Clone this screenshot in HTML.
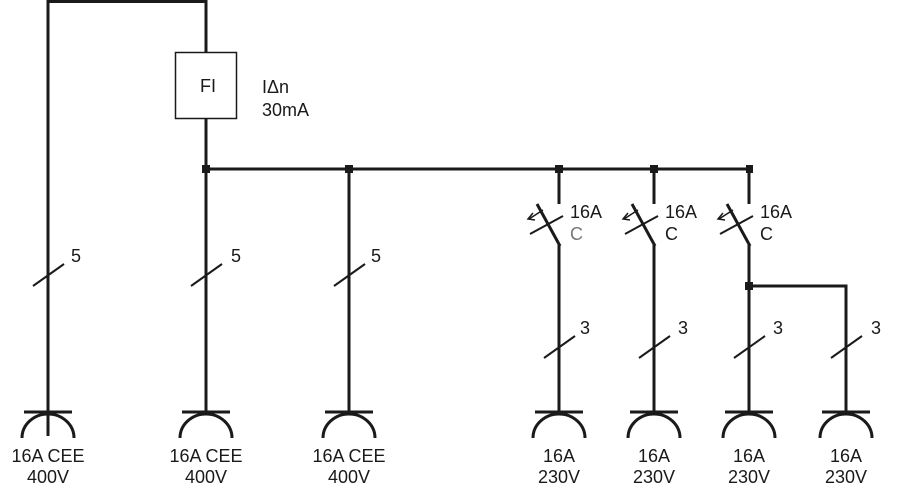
<!DOCTYPE html>
<html><head><style>body{margin:0;background:#fff}svg{display:block}</style></head><body>
<svg width="900" height="493" viewBox="0 0 900 493" xmlns="http://www.w3.org/2000/svg" font-family="Liberation Sans, sans-serif" fill="none" stroke="#1a1a1a">
<g stroke-width="3">
<polyline points="48,412 48,1.5 206,1.5 206,52"/>
<line x1="206" y1="119" x2="206" y2="412"/>
<line x1="206" y1="169" x2="750" y2="169"/>
<line x1="349" y1="169" x2="349" y2="412"/>
<line x1="559" y1="169" x2="559" y2="204"/>
<line x1="654" y1="169" x2="654" y2="204"/>
<line x1="749" y1="169" x2="749" y2="204"/>
<line x1="559" y1="245" x2="559" y2="412"/>
<line x1="654" y1="245" x2="654" y2="412"/>
<polyline points="749,245 749,412"/>
<polyline points="749,286 846,286 846,412"/>
</g>
<rect x="175.5" y="52.5" width="61" height="66" stroke-width="1.5"/>
<g fill="#1a1a1a" stroke="none">
<rect x="202" y="165" width="8" height="8"/><rect x="345" y="165" width="8" height="8"/>
<rect x="555" y="165" width="8" height="8"/><rect x="650" y="165" width="8" height="8"/>
<rect x="746" y="165" width="7" height="8"/><rect x="745" y="282" width="8" height="8"/>
</g>
<g id="br" stroke-width="3">
<line x1="537" y1="204" x2="560" y2="246"/>
<line x1="530" y1="234" x2="563" y2="216" stroke-width="2"/>
<polyline points="543,210 529,219" stroke-width="1.5"/>
<polyline points="533,213 528,219 535,220" stroke-width="1.5"/>
</g>
<use href="#br" x="95"/><use href="#br" x="190"/>
<g stroke-width="2">
<line x1="33" y1="286" x2="64" y2="264"/>
<line x1="191" y1="286" x2="222" y2="264"/>
<line x1="334" y1="286" x2="365" y2="264"/>
<line x1="544" y1="358" x2="575" y2="336"/>
<line x1="639" y1="358" x2="670" y2="336"/>
<line x1="734" y1="358" x2="765" y2="336"/>
<line x1="831" y1="358" x2="862" y2="336"/>
</g>
<g id="sk" stroke-width="3">
<line x1="24" y1="412" x2="72" y2="412"/>
<path d="M22,438 A26,24 0 0 1 74,438"/>
</g>
<line x1="48" y1="412" x2="48" y2="436" stroke-width="3"/>
<use href="#sk" x="158"/><use href="#sk" x="301"/><use href="#sk" x="511"/>
<use href="#sk" x="606"/><use href="#sk" x="701"/><use href="#sk" x="798"/>
<g fill="#1a1a1a" stroke="none" font-size="18" text-anchor="middle">
<text x="208" y="92">FI</text>
<text x="262" y="93" text-anchor="start">IΔn</text>
<text x="262" y="116" text-anchor="start">30mA</text>
<g text-anchor="start">
<text x="71" y="262">5</text><text x="231" y="262">5</text><text x="371" y="262">5</text>
<text x="580" y="334">3</text><text x="678" y="334">3</text><text x="773" y="334">3</text><text x="871" y="334">3</text>
<text x="570" y="218">16A</text><text x="570" y="240" fill="#777">C</text>
<text x="665" y="218">16A</text><text x="665" y="240">C</text>
<text x="760" y="218">16A</text><text x="760" y="240">C</text>
</g>
<text x="48" y="462">16A CEE</text><text x="48" y="483">400V</text>
<text x="206" y="462">16A CEE</text><text x="206" y="483">400V</text>
<text x="349" y="462">16A CEE</text><text x="349" y="483">400V</text>
<text x="559" y="462">16A</text><text x="559" y="483">230V</text>
<text x="654" y="462">16A</text><text x="654" y="483">230V</text>
<text x="749" y="462">16A</text><text x="749" y="483">230V</text>
<text x="846" y="462">16A</text><text x="846" y="483">230V</text>
</g>
</svg>
</body></html>
